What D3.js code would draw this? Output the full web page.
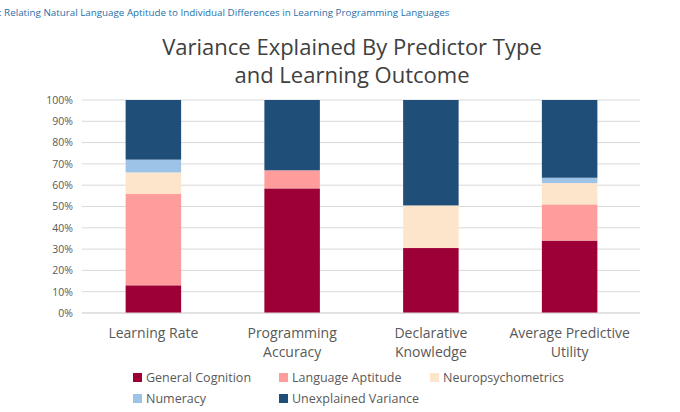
<!DOCTYPE html>
<html><head><meta charset="utf-8">
<script src="https://cdn.jsdelivr.net/npm/d3@7"></script>
<style>body{margin:0;background:#fff;font-family:"Open Sans",sans-serif;}</style>
</head><body>
<script>
// data
var categories = [["Learning Rate"], ["Programming", "Accuracy"], ["Declarative", "Knowledge"], ["Average Predictive", "Utility"]];
var seriesNames = ["General Cognition", "Language Aptitude", "Neuropsychometrics", "Numeracy", "Unexplained Variance"];
var seriesColors = ["#9c0036", "#ff9d9d", "#fde5cb", "#9dc3e6", "#1f4e79"];
var generalCognition = [13, 58.5, 30.5, 34];
var languageAptitude = [43, 8.5, 0, 17];
var neuropsychometrics = [10, 0, 20, 10];
var numeracy = [6, 0, 0, 2.5];
var unexplained = [28, 33, 49.5, 36.5];
var yTicks = [0,10,20,30,40,50,60,70,80,90,100];

var svg = d3.select("body").append("svg").attr("width", 680).attr("height", 412);

svg.append("text").attr("x", -1).attr("y", 16).attr("font-size", 9.8).attr("fill", "#1f6fa8")
   .text(": Relating Natural Language Aptitude to Individual Differences in Learning Programming Languages");

svg.append("text").attr("x", 352).attr("y", 55).attr("text-anchor", "middle").attr("font-size", 22).attr("fill", "#404040").text("Variance Explained By Predictor Type");
svg.append("text").attr("x", 352).attr("y", 83).attr("text-anchor", "middle").attr("font-size", 22).attr("fill", "#404040").text("and Learning Outcome");

var x = d3.scaleBand().domain(d3.range(4)).range([84, 639]).paddingInner(0.6).paddingOuter(0.3);
var y = d3.scaleLinear().domain([0, 100]).range([313, 100]);

svg.append("g").selectAll("line").data(yTicks).enter().append("line")
   .attr("x1", 82).attr("x2", 640).attr("y1", function (d) { return y(d); }).attr("y2", function (d) { return y(d); })
   .attr("stroke", "#d9d9d9");

var yAxis = svg.append("g").attr("transform", "translate(76,0)")
   .call(d3.axisLeft(y).tickValues(yTicks).tickSize(0).tickFormat(function (d) { return d + "%"; }));
yAxis.select(".domain").remove();
yAxis.selectAll("text").attr("font-size", 10.5).attr("fill", "#595959").attr("font-family", "'Open Sans',sans-serif");

var rows = d3.range(4).map(function (i) {
  return {gc: generalCognition[i], la: languageAptitude[i], np: neuropsychometrics[i], nu: numeracy[i], un: unexplained[i]};
});
var stack = d3.stack().keys(["gc", "la", "np", "nu", "un"])(rows);

svg.append("g").selectAll("g").data(stack).enter().append("g")
   .attr("fill", function (d, i) { return seriesColors[i]; })
   .selectAll("rect").data(function (d) { return d; }).enter().append("rect")
   .attr("x", function (d, i) { return x(i); })
   .attr("width", x.bandwidth())
   .attr("y", function (d) { return y(Math.min(d[1], 100)); })
   .attr("height", function (d) { return y(d[0]) - y(Math.min(d[1], 100)); });

svg.append("line").attr("x1", 82).attr("x2", 640).attr("y1", 313).attr("y2", 313).attr("stroke", "#d9d9d9");

var lab = svg.append("g").selectAll("text").data(categories).enter().append("text")
   .attr("text-anchor", "middle").attr("font-size", 14).attr("fill", "#595959")
   .attr("x", function (d, i) { return x(i) + x.bandwidth() / 2; }).attr("y", 338);
lab.selectAll("tspan").data(function (d) { return d; }).enter().append("tspan")
   .attr("x", function () { return d3.select(this.parentNode).attr("x"); })
   .attr("dy", function (d, i) { return i ? 19 : 0; }).text(function (d) { return d; });

var legPos = [[133, 382], [279, 382], [430, 382], [133, 403], [279, 403]];
var leg = svg.append("g").selectAll("g").data(seriesNames).enter().append("g")
   .attr("transform", function (d, i) { return "translate(" + legPos[i][0] + "," + legPos[i][1] + ")"; });
leg.append("rect").attr("x", 0).attr("y", -9).attr("width", 9).attr("height", 9)
   .attr("fill", function (d, i) { return seriesColors[i]; });
leg.append("text").attr("x", 13).attr("y", 0).attr("font-size", 12.5).attr("fill", "#595959").text(function (d) { return d; });
</script>
</body></html>
